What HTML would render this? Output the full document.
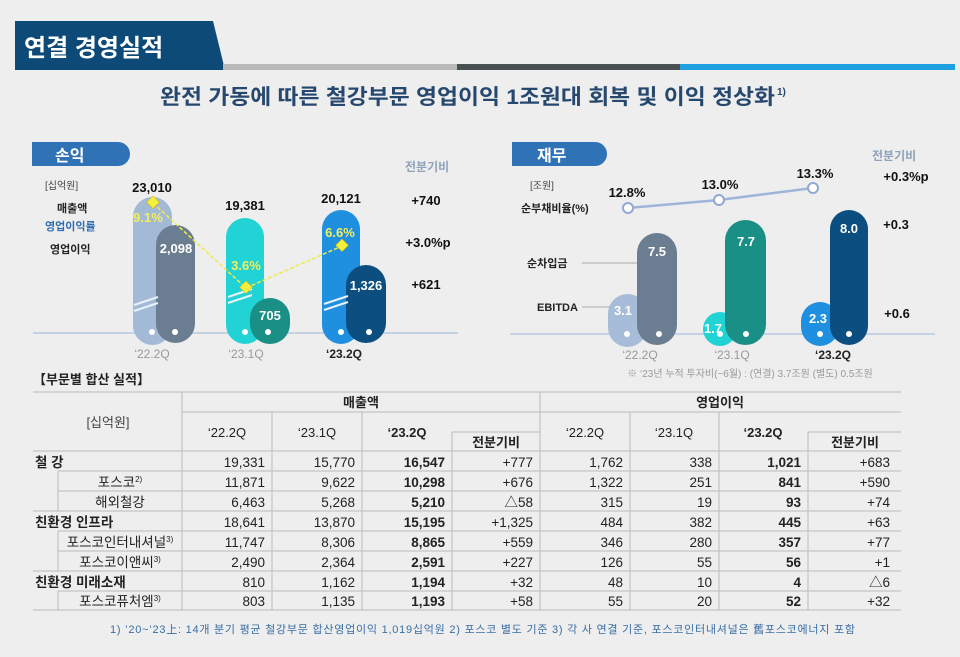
<!DOCTYPE html>
<html><head><meta charset="utf-8"><style>
body{margin:0;width:960px;height:657px;overflow:hidden;background:#eeeeee}
svg{display:block}
text{font-family:"Liberation Sans","Noto Sans CJK KR",sans-serif}
</style></head><body>
<svg width="960" height="657" viewBox="0 0 960 657" xmlns="http://www.w3.org/2000/svg">
<rect width="960" height="657" fill="#eeeeee"/>
<!-- header -->
<polygon points="15,21 213,21 225,70 15,70" fill="#0e4a78"/>
<text x="24" y="56" font-size="24" font-weight="bold" fill="#fff">연결 경영실적</text>
<rect x="223" y="64" width="234" height="6" fill="#b8b8b8"/>
<rect x="457" y="64" width="223" height="6" fill="#4a4f52"/>
<rect x="680" y="64" width="275" height="6" fill="#1ca0e0"/>
<text x="160" y="104" font-size="21" font-weight="bold" fill="#26476e" textLength="615" lengthAdjust="spacingAndGlyphs">완전 가동에 따른 철강부문 영업이익 1조원대 회복 및 이익 정상화</text>
<text x="777" y="95" font-size="10" font-weight="bold" fill="#26476e">1)</text>

<!-- left chart -->
<path d="M32,142 H118 A12,12 0 0 1 118,166 H32 Z" fill="#2f72b5"/>
<text x="55" y="161" font-size="16" font-weight="bold" fill="#fff">손익</text>
<text x="405" y="171" font-size="12" font-weight="bold" fill="#8fa3bb">전분기비</text>
<text x="45" y="189" font-size="10" fill="#444">[십억원]</text>
<text x="57" y="212" font-size="11" font-weight="bold" fill="#222">매출액</text>
<text x="45" y="230" font-size="11" font-weight="bold" fill="#2f6db0">영업이익률</text>
<text x="50" y="253" font-size="11" font-weight="bold" fill="#222">영업이익</text>
<line x1="33" y1="333" x2="458" y2="333" stroke="#9ab6d8" stroke-width="1"/>
<rect x="133" y="197" width="39" height="148" rx="19.5" fill="#a3bad6"/>
<rect x="156" y="225" width="39" height="118" rx="19.5" fill="#6b7d90"/>
<rect x="226" y="218" width="38" height="126" rx="19" fill="#22d3d6"/>
<rect x="250" y="298" width="40" height="46" rx="20" fill="#1a8f86"/>
<rect x="322" y="210" width="38" height="134" rx="19" fill="#1f8fe0"/>
<rect x="346" y="265" width="40" height="78" rx="20" fill="#0b4e7f"/>
<g stroke="#e8f2fa" stroke-width="2"><line x1="134" y1="305" x2="158" y2="297"/><line x1="134" y1="311" x2="158" y2="303"/>
<line x1="228" y1="297" x2="252" y2="289"/><line x1="228" y1="303" x2="252" y2="295"/>
<line x1="324" y1="304" x2="348" y2="296"/><line x1="324" y1="310" x2="348" y2="302"/></g>
<g fill="#fff"><circle cx="152" cy="332" r="3"/><circle cx="175" cy="332" r="3"/><circle cx="245" cy="332" r="3"/><circle cx="268" cy="332" r="3"/><circle cx="341" cy="332" r="3"/><circle cx="369" cy="332" r="3"/></g>
<polyline points="153,203 246,288 342,246" fill="none" stroke="#f0ea4a" stroke-width="1.5" stroke-dasharray="4,2"/>
<g fill="#f5ee3a" stroke="#c9b800" stroke-width="0.5"><rect x="148" y="198" width="9" height="9" transform="rotate(45 153 203)"/><rect x="241" y="283" width="9" height="9" transform="rotate(45 246 288)"/><rect x="337" y="241" width="9" height="9" transform="rotate(45 342 246)"/></g>
<g font-size="13" font-weight="bold" text-anchor="middle">
<text x="152" y="192" fill="#111">23,010</text>
<text x="245" y="210" fill="#111">19,381</text>
<text x="341" y="203" fill="#111">20,121</text>
<text x="148" y="222" fill="#f5ee5a">9.1%</text>
<text x="246" y="270" fill="#f5ee5a">3.6%</text>
<text x="340" y="237" fill="#f5ee5a">6.6%</text>
<text x="176" y="253" fill="#fff">2,098</text>
<text x="270" y="320" fill="#fff">705</text>
<text x="366" y="290" fill="#fff">1,326</text>
<text x="426" y="205" fill="#111">+740</text>
<text x="428" y="247" fill="#111">+3.0%p</text>
<text x="426" y="289" fill="#111">+621</text>
</g>
<g font-size="12" text-anchor="middle"><text x="152" y="358" fill="#999">‘22.2Q</text><text x="246" y="358" fill="#999">‘23.1Q</text><text x="344" y="358" fill="#222" font-weight="bold">‘23.2Q</text></g>

<!-- right chart -->
<path d="M512,142 H595 A12,12 0 0 1 595,166 H512 Z" fill="#2f72b5"/>
<text x="537" y="161" font-size="16" font-weight="bold" fill="#fff">재무</text>
<text x="872" y="160" font-size="12" font-weight="bold" fill="#8fa3bb">전분기비</text>
<text x="530" y="189" font-size="10" fill="#444">[조원]</text>
<text x="521" y="212" font-size="11" font-weight="bold" fill="#222">순부채비율(%)</text>
<text x="527" y="267" font-size="11" font-weight="bold" fill="#222">순차입금</text>
<line x1="582" y1="263" x2="640" y2="263" stroke="#aaa"/>
<text x="537" y="311" font-size="11" font-weight="bold" fill="#222">EBITDA</text>
<line x1="582" y1="307" x2="612" y2="307" stroke="#aaa"/>
<line x1="510" y1="334" x2="935" y2="334" stroke="#9ab6d8"/>
<rect x="608" y="294" width="39" height="53" rx="19.5" fill="#a7bcd8"/>
<rect x="637" y="233" width="40" height="112" rx="20" fill="#6b7d90"/>
<rect x="703" y="312" width="34" height="34" rx="17" fill="#22d3d6"/>
<rect x="725" y="220" width="41" height="125" rx="20.5" fill="#1a8f86"/>
<rect x="801" y="302" width="38" height="44" rx="19" fill="#1f8fe0"/>
<rect x="830" y="210" width="38" height="135" rx="19" fill="#0b4e7f"/>
<g fill="#fff"><circle cx="627" cy="334" r="3"/><circle cx="659" cy="334" r="3"/><circle cx="720" cy="334" r="3"/><circle cx="746" cy="334" r="3"/><circle cx="820" cy="334" r="3"/><circle cx="849" cy="334" r="3"/></g>
<polyline points="628,208 719,200 813,188" fill="none" stroke="#9fb4d8" stroke-width="2.5"/>
<g fill="#fff" stroke="#8fa8d4" stroke-width="2"><circle cx="628" cy="208" r="5"/><circle cx="719" cy="200" r="5"/><circle cx="813" cy="188" r="5"/></g>
<g font-size="13" font-weight="bold" text-anchor="middle">
<text x="627" y="197" fill="#111">12.8%</text>
<text x="720" y="189" fill="#111">13.0%</text>
<text x="815" y="178" fill="#111">13.3%</text>
<text x="657" y="256" fill="#fff">7.5</text>
<text x="746" y="246" fill="#fff">7.7</text>
<text x="849" y="233" fill="#fff">8.0</text>
<text x="623" y="315" fill="#fff">3.1</text>
<text x="713" y="333" fill="#fff">1.7</text>
<text x="818" y="323" fill="#fff">2.3</text>
<text x="906" y="181" fill="#111">+0.3%p</text>
<text x="896" y="229" fill="#111">+0.3</text>
<text x="897" y="318" fill="#111">+0.6</text>
</g>
<g font-size="12" text-anchor="middle"><text x="640" y="359" fill="#999">‘22.2Q</text><text x="732" y="359" fill="#999">‘23.1Q</text><text x="833" y="359" fill="#222" font-weight="bold">‘23.2Q</text></g>
<text x="750" y="377" text-anchor="middle" font-size="10" fill="#999">※ ‘23년 누적 투자비(~6월) : (연결) 3.7조원 (별도) 0.5조원</text>

<!-- table -->
<text x="33" y="384" font-size="13" font-weight="bold" fill="#222">【부문별 합산 실적】</text>
<g stroke="#bbb" stroke-width="1" fill="none">
<line x1="33" y1="392" x2="901" y2="392"/>
<line x1="182" y1="412" x2="901" y2="412"/>
<line x1="452" y1="432" x2="540" y2="432"/><line x1="808" y1="432" x2="901" y2="432"/>
<line x1="33" y1="451" x2="901" y2="451"/>
<line x1="58" y1="471" x2="901" y2="471"/><line x1="58" y1="491" x2="901" y2="491"/>
<line x1="33" y1="511" x2="901" y2="511"/><line x1="58" y1="531" x2="901" y2="531"/><line x1="58" y1="551" x2="901" y2="551"/>
<line x1="33" y1="571" x2="901" y2="571"/><line x1="58" y1="591" x2="901" y2="591"/>
<line x1="33" y1="610" x2="901" y2="610"/>
<line x1="182" y1="392" x2="182" y2="610"/><line x1="540" y1="392" x2="540" y2="610"/>
<line x1="272" y1="412" x2="272" y2="610"/><line x1="362" y1="412" x2="362" y2="610"/><line x1="452" y1="432" x2="452" y2="610"/>
<line x1="630" y1="412" x2="630" y2="610"/><line x1="719" y1="412" x2="719" y2="610"/><line x1="808" y1="432" x2="808" y2="610"/>
<line x1="58" y1="471" x2="58" y2="511"/><line x1="58" y1="531" x2="58" y2="571"/><line x1="58" y1="591" x2="58" y2="610"/>
</g>
<g font-size="13" fill="#222" text-anchor="middle">
<text x="108" y="427" fill="#444">[십억원]</text>
<text x="361" y="407" font-weight="bold">매출액</text><text x="720" y="407" font-weight="bold">영업이익</text>
<text x="227" y="437">‘22.2Q</text><text x="317" y="437">‘23.1Q</text><text x="407" y="437" font-weight="bold">‘23.2Q</text>
<text x="496" y="447" font-weight="bold">전분기비</text>
<text x="585" y="437">‘22.2Q</text><text x="674" y="437">‘23.1Q</text><text x="763" y="437" font-weight="bold">‘23.2Q</text>
<text x="855" y="447" font-weight="bold">전분기비</text>
</g>
<g font-size="13.5" fill="#222">
<text x="35" y="467" font-weight="bold">철 강</text>
<text x="120" y="487" text-anchor="middle">포스코<tspan font-size="8" dy="-5">2)</tspan></text>
<text x="120" y="507" text-anchor="middle">해외철강</text>
<text x="35" y="527" font-weight="bold">친환경 인프라</text>
<text x="120" y="547" text-anchor="middle">포스코인터내셔널<tspan font-size="8" dy="-5">3)</tspan></text>
<text x="120" y="567" text-anchor="middle">포스코이앤씨<tspan font-size="8" dy="-5">3)</tspan></text>
<text x="35" y="587" font-weight="bold">친환경 미래소재</text>
<text x="120" y="606" text-anchor="middle">포스코퓨처엠<tspan font-size="8" dy="-5">3)</tspan></text>
</g>
<g font-size="13.5" fill="#222" text-anchor="end">
<g transform="translate(0,467)">
<text x="265">19,331</text><text x="355">15,770</text><text x="445" font-weight="bold">16,547</text><text x="533">+777</text><text x="623">1,762</text><text x="712">338</text><text x="801" font-weight="bold">1,021</text><text x="890">+683</text></g>
<g transform="translate(0,487)">
<text x="265">11,871</text><text x="355">9,622</text><text x="445" font-weight="bold">10,298</text><text x="533">+676</text><text x="623">1,322</text><text x="712">251</text><text x="801" font-weight="bold">841</text><text x="890">+590</text></g>
<g transform="translate(0,507)">
<text x="265">6,463</text><text x="355">5,268</text><text x="445" font-weight="bold">5,210</text><text x="533">△58</text><text x="623">315</text><text x="712">19</text><text x="801" font-weight="bold">93</text><text x="890">+74</text></g>
<g transform="translate(0,527)">
<text x="265">18,641</text><text x="355">13,870</text><text x="445" font-weight="bold">15,195</text><text x="533">+1,325</text><text x="623">484</text><text x="712">382</text><text x="801" font-weight="bold">445</text><text x="890">+63</text></g>
<g transform="translate(0,547)">
<text x="265">11,747</text><text x="355">8,306</text><text x="445" font-weight="bold">8,865</text><text x="533">+559</text><text x="623">346</text><text x="712">280</text><text x="801" font-weight="bold">357</text><text x="890">+77</text></g>
<g transform="translate(0,567)">
<text x="265">2,490</text><text x="355">2,364</text><text x="445" font-weight="bold">2,591</text><text x="533">+227</text><text x="623">126</text><text x="712">55</text><text x="801" font-weight="bold">56</text><text x="890">+1</text></g>
<g transform="translate(0,587)">
<text x="265">810</text><text x="355">1,162</text><text x="445" font-weight="bold">1,194</text><text x="533">+32</text><text x="623">48</text><text x="712">10</text><text x="801" font-weight="bold">4</text><text x="890">△6</text></g>
<g transform="translate(0,606)">
<text x="265">803</text><text x="355">1,135</text><text x="445" font-weight="bold">1,193</text><text x="533">+58</text><text x="623">55</text><text x="712">20</text><text x="801" font-weight="bold">52</text><text x="890">+32</text></g>
</g>
<text x="110" y="633" font-size="11" fill="#3a6ea5" textLength="745" lengthAdjust="spacing">1) ’20~’23上: 14개 분기 평균 철강부문 합산영업이익 1,019십억원    2) 포스코 별도 기준    3) 각 사 연결 기준, 포스코인터내셔널은 舊포스코에너지 포함</text>
</svg>
</body></html>
